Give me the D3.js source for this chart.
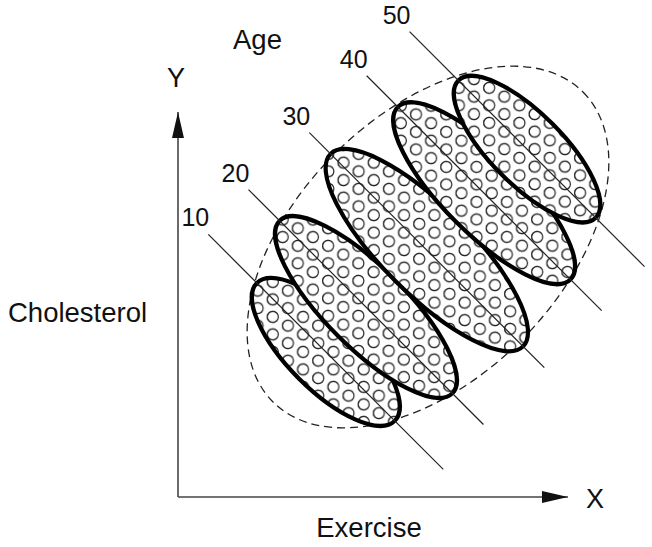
<!DOCTYPE html>
<html>
<head>
<meta charset="utf-8">
<style>
  body { margin: 0; background: #fff; }
  text { font-family: "Liberation Sans", Arial, sans-serif; fill: #111; }
</style>
</head>
<body>
<script src="https://cdn.jsdelivr.net/npm/d3@7"></script>
<script>
  // DATA (abstract units, exercise on x, cholesterol on y)
  const ages = [10, 20, 30, 40, 50];
  const groupExercise = [37.9, 48.2, 63.8, 78.5, 89.5];
  const groupCholesterol = [37.2, 48.7, 63.3, 77.9, 89.2];
  const groupSpread = [25.0, 31.3, 34.9, 31.3, 24.9]; // along the within-age trend
  const groupWidth = [9.7, 10.3, 11.3, 10.3, 9.2];
  const trendHalfLength = 42.6;
  // dashed envelope of the whole population
  const cloudCenter = [64.1, 64.1];
  const cloudRadii = [56.2, 33.8];

  const width = 652, height = 547;
  const k = 3.9; // px per unit, same on both axes
  const x = d3.scaleLinear().domain([0, 100]).range([178, 178 + 100 * k]);
  const y = d3.scaleLinear().domain([0, 98.7]).range([497, 497 - 98.7 * k]);

  const svg = d3.select("body").append("svg")
    .attr("width", width)
    .attr("height", height);

  const defs = svg.append("defs");

  // arrow head
  defs.append("marker")
    .attr("id", "arrow")
    .attr("markerUnits", "userSpaceOnUse")
    .attr("viewBox", "0 0 26 12")
    .attr("refX", 26).attr("refY", 6)
    .attr("markerWidth", 26).attr("markerHeight", 12)
    .attr("orient", "auto")
    .append("path")
    .attr("d", "M0,0 L26,6 L0,12 Z")
    .attr("fill", "#111");

  // little circles texture
  const pw = 17.5, ph = 30.3;
  const pat = defs.append("pattern")
    .attr("id", "dots")
    .attr("patternUnits", "userSpaceOnUse")
    .attr("width", pw).attr("height", ph)
    .attr("patternTransform", "rotate(45)");
  pat.append("rect").attr("width", pw).attr("height", ph).attr("fill", "#fff");
  [[pw / 2, ph / 4], [0, ph * 0.75], [pw, ph * 0.75]].forEach(([cx, cy]) => {
    pat.append("circle")
      .attr("cx", cx).attr("cy", cy).attr("r", 5.5)
      .attr("fill", "none")
      .attr("stroke", "#222")
      .attr("stroke-width", 1.4);
  });

  // AXES
  svg.append("line")
    .attr("x1", x(0)).attr("y1", y(0))
    .attr("x2", x(100)).attr("y2", y(0))
    .attr("stroke", "#444").attr("stroke-width", 1.6)
    .attr("marker-end", "url(#arrow)");
  svg.append("line")
    .attr("x1", x(0)).attr("y1", y(0))
    .attr("x2", x(0)).attr("y2", y(98.7))
    .attr("stroke", "#444").attr("stroke-width", 1.6)
    .attr("marker-end", "url(#arrow)");

  svg.append("text").attr("x", x(100) + 27).attr("y", y(0) + 11)
    .attr("text-anchor", "middle").attr("font-size", 27).text("X");
  svg.append("text").attr("x", x(0) - 2).attr("y", y(98.7) - 25)
    .attr("text-anchor", "middle").attr("font-size", 27).text("Y");
  svg.append("text").attr("x", 369).attr("y", 537)
    .attr("text-anchor", "middle").attr("font-size", 27.5).text("Exercise");
  svg.append("text").attr("x", 8).attr("y", 322)
    .attr("font-size", 27.5).text("Cholesterol");
  svg.append("text").attr("x", 233).attr("y", 49)
    .attr("font-size", 27.5).text("Age");

  // dashed envelope
  svg.append("ellipse")
    .attr("transform", `translate(${x(cloudCenter[0])},${y(cloudCenter[1])}) rotate(-45)`)
    .attr("rx", cloudRadii[0] * k)
    .attr("ry", cloudRadii[1] * k)
    .attr("fill", "none")
    .attr("stroke", "#222")
    .attr("stroke-width", 1.3)
    .attr("stroke-dasharray", "8,5");

  const groups = ages.map((a, i) => ({
    age: a,
    cx: groupExercise[i],
    cy: groupCholesterol[i],
    a: groupSpread[i],
    b: groupWidth[i]
  }));

  const d = Math.SQRT1_2;

  // age groups
  const g = svg.append("g").selectAll("g.age")
    .data(groups)
    .enter()
    .append("g")
    .attr("class", "age");

  g.append("ellipse")
    .attr("transform", (e) => `translate(${x(e.cx)},${y(e.cy)}) rotate(45)`)
    .attr("rx", (e) => e.a * k)
    .attr("ry", (e) => e.b * k)
    .attr("fill", "url(#dots)")
    .attr("stroke", "#000")
    .attr("stroke-width", 4.2);

  // within-age trend lines
  svg.append("g").selectAll("line")
    .data(groups)
    .enter()
    .append("line")
    .attr("x1", (e) => x(e.cx - trendHalfLength * d))
    .attr("y1", (e) => y(e.cy + trendHalfLength * d))
    .attr("x2", (e) => x(e.cx + trendHalfLength * d))
    .attr("y2", (e) => y(e.cy - trendHalfLength * d))
    .attr("stroke", "#222")
    .attr("stroke-width", 1.2);

  svg.append("g").selectAll("text")
    .data(groups)
    .enter()
    .append("text")
    .attr("x", (e) => x(e.cx - trendHalfLength * d) - 13)
    .attr("y", (e) => y(e.cy + trendHalfLength * d) - 8)
    .attr("text-anchor", "middle")
    .attr("font-size", 25)
    .text((e) => e.age);
</script>
</body>
</html>
